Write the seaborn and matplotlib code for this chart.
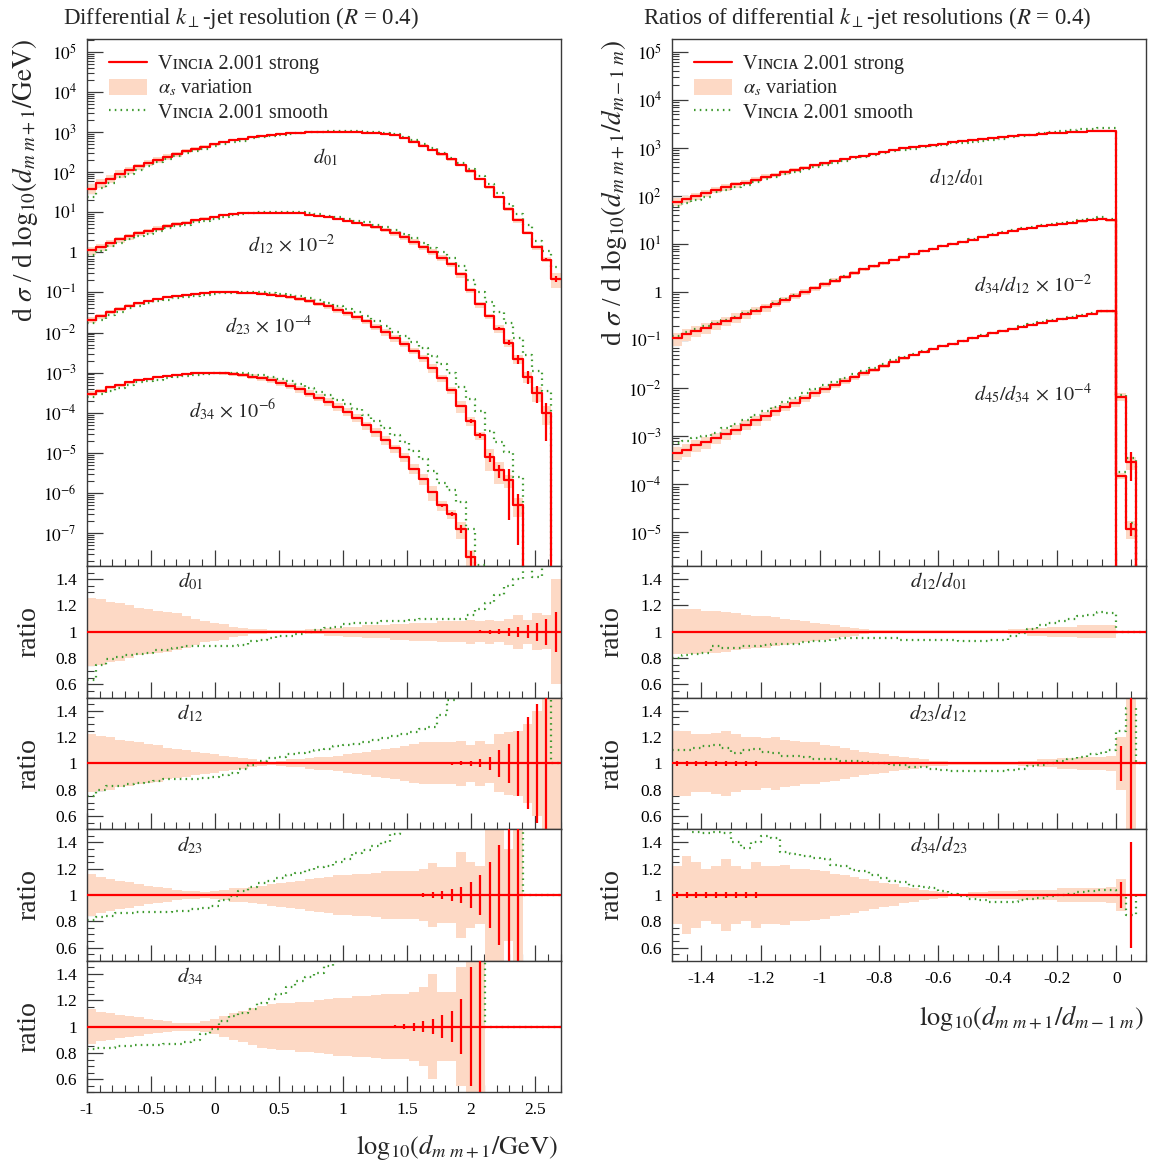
"""Vincia 2.001 strong vs smooth: differential k_T-jet resolutions and their ratios.

Left column: d_{m m+1} spectra (scaled) plus one ratio panel per spectrum.
Right column: ratios of successive resolutions plus three ratio panels.
"""

import matplotlib

matplotlib.use("Agg")

import matplotlib.pyplot as plt  # noqa: E402
import numpy as np  # noqa: E402
import seaborn as sns  # noqa: E402
from matplotlib.lines import Line2D  # noqa: E402
from matplotlib.patches import Patch  # noqa: E402
from matplotlib.ticker import (  # noqa: E402
    FixedLocator,
    FuncFormatter,
    LogLocator,
    MultipleLocator,
    NullFormatter,
)

# ---------------------------------------------------------------------------
# Data. Main-panel spectra are log10 of the red
# "strong" histogram; None = empty bin. Ratio-panel arrays are per bin:
# *_GREEN = smooth/strong, *_BAND = alpha_s half-width, *_ERR = stat. error.
# ---------------------------------------------------------------------------
LEFT_LO, LEFT_HI, LEFT_NBINS = -1.0, 2.7, 50
RIGHT_LO, RIGHT_HI, RIGHT_NBINS = -1.5, 0.1, 48

D01_LOG = [1.59, 1.72, 1.83, 1.96, 2.05, 2.14, 2.23, 2.31, 2.38, 2.45,
           2.52, 2.58, 2.63, 2.69, 2.74, 2.79, 2.83, 2.87, 2.90, 2.93,
           2.95, 2.97, 2.98, 2.99, 3.00, 3.00, 3.00, 3.00, 2.99, 2.98,
           2.97, 2.94, 2.92, 2.84, 2.76, 2.66, 2.55, 2.44, 2.32, 2.18,
           2.03, 1.83, 1.62, 1.38, 1.08, 0.80, 0.49, 0.13, -0.18, -0.66]
D12_LOG = [0.05, 0.13, 0.23, 0.32, 0.40, 0.47, 0.53, 0.59, 0.65, 0.70,
           0.74, 0.80, 0.84, 0.88, 0.92, 0.95, 0.97, 0.98, 0.99, 0.99,
           0.99, 0.98, 0.97, 0.94, 0.91, 0.87, 0.82, 0.78, 0.73, 0.68,
           0.62, 0.55, 0.47, 0.37, 0.26, 0.13, 0.01, -0.13, -0.30, -0.55,
           -0.95, -1.30, -1.60, -1.90, -2.25, -2.65, -3.10, -3.50, -4.00, None]
D23_LOG = [-1.68, -1.60, -1.49, -1.42, -1.33, -1.27, -1.21, -1.16, -1.12, -1.08,
           -1.06, -1.03, -1.02, -1.00, -1.00, -1.00, -1.01, -1.02, -1.03, -1.06,
           -1.08, -1.12, -1.16, -1.21, -1.28, -1.35, -1.43, -1.52, -1.62, -1.72,
           -1.85, -1.99, -2.14, -2.28, -2.45, -2.64, -2.89, -3.14, -3.43, -3.83,
           -4.20, -4.56, -5.10, -5.43, -5.68, -6.30, None, None, None, None]
D34_LOG = [-3.52, -3.45, -3.37, -3.31, -3.24, -3.18, -3.15, -3.12, -3.08, -3.06,
           -3.03, -3.02, -3.01, -3.00, -3.02, -3.03, -3.06, -3.10, -3.14, -3.18,
           -3.25, -3.33, -3.42, -3.52, -3.62, -3.72, -3.85, -3.98, -4.12, -4.31,
           -4.48, -4.67, -4.89, -5.10, -5.39, -5.64, -5.98, -6.31, -6.52, -6.89,
           -7.60, -8.50, None, None, None, None, None, None, None, None]

D01_GREEN = [0.63, 0.75, 0.79, 0.81, 0.82, 0.83, 0.84, 0.86, 0.86, 0.88,
             0.89, 0.89, 0.89, 0.89, 0.89, 0.89, 0.90, 0.93, 0.94, 0.95,
             0.97, 0.97, 0.98, 1.00, 1.01, 1.03, 1.04, 1.06, 1.07, 1.07,
             1.07, 1.08, 1.08, 1.08, 1.09, 1.10, 1.10, 1.10, 1.10, 1.10,
             1.13, 1.17, 1.22, 1.28, 1.35, 1.40, 1.55, 1.42, 1.65, 1.95]
D12_GREEN = [0.75, 0.80, 0.83, 0.83, 0.84, 0.85, 0.86, 0.87, 0.88, 0.88,
             0.88, 0.88, 0.89, 0.90, 0.91, 0.93, 0.96, 0.99, 1.02, 1.04,
             1.05, 1.07, 1.08, 1.09, 1.10, 1.11, 1.13, 1.14, 1.15, 1.16,
             1.18, 1.19, 1.21, 1.22, 1.24, 1.26, 1.28, 1.37, 1.48, 1.60,
             1.80, 2.00, 2.30, 2.60, 3.00, 3.30, 3.50, 3.50, 3.50, 1.00]
D23_GREEN = [0.81, 0.83, 0.84, 0.86, 0.86, 0.87, 0.87, 0.87, 0.87, 0.88,
             0.88, 0.89, 0.90, 0.92, 0.96, 0.99, 1.03, 1.06, 1.09, 1.11,
             1.13, 1.15, 1.17, 1.19, 1.21, 1.22, 1.25, 1.27, 1.32, 1.34,
             1.37, 1.40, 1.46, 1.52, 1.65, 1.80, 2.00, 2.30, 2.60, 3.00,
             3.40, 4.00, 4.50, 5.00, 5.00, 5.00, 1.00, 1.00, 1.00, 1.00]
D34_GREEN = [0.83, 0.84, 0.84, 0.85, 0.85, 0.86, 0.86, 0.86, 0.87, 0.87,
             0.88, 0.90, 0.94, 0.98, 1.04, 1.08, 1.10, 1.13, 1.18, 1.21,
             1.25, 1.30, 1.35, 1.38, 1.41, 1.46, 1.50, 1.56, 1.65, 1.75,
             1.90, 2.00, 2.20, 2.40, 2.70, 3.00, 3.30, 3.70, 4.00, 4.50,
             5.00, 5.00, 1.00, 1.00, 1.00, 1.00, 1.00, 1.00, 1.00, 1.00]

D01_BAND = [0.26, 0.25, 0.23, 0.22, 0.20, 0.18, 0.17, 0.16, 0.15, 0.14,
            0.12, 0.10, 0.08, 0.07, 0.06, 0.04, 0.03, 0.02, 0.02, 0.01,
            0.01, 0.01, 0.01, 0.02, 0.02, 0.03, 0.03, 0.04, 0.04, 0.05,
            0.05, 0.05, 0.06, 0.06, 0.07, 0.07, 0.07, 0.08, 0.08, 0.08,
            0.09, 0.08, 0.09, 0.08, 0.10, 0.13, 0.09, 0.14, 0.13, 0.40]
D12_BAND = [0.22, 0.21, 0.20, 0.18, 0.17, 0.16, 0.15, 0.14, 0.12, 0.11,
            0.10, 0.09, 0.08, 0.07, 0.06, 0.05, 0.04, 0.03, 0.02, 0.01,
            0.02, 0.03, 0.03, 0.04, 0.05, 0.05, 0.06, 0.07, 0.08, 0.09,
            0.10, 0.11, 0.12, 0.13, 0.15, 0.16, 0.16, 0.16, 0.16, 0.17,
            0.14, 0.17, 0.15, 0.22, 0.24, 0.25, 0.30, 0.40, 0.50, 0.50]
D23_BAND = [0.16, 0.14, 0.12, 0.11, 0.10, 0.08, 0.07, 0.06, 0.05, 0.04,
            0.03, 0.03, 0.02, 0.03, 0.04, 0.05, 0.05, 0.06, 0.07, 0.08,
            0.09, 0.10, 0.11, 0.12, 0.13, 0.14, 0.15, 0.15, 0.16, 0.16,
            0.17, 0.18, 0.18, 0.18, 0.18, 0.20, 0.24, 0.21, 0.21, 0.33,
            0.25, 0.22, 0.55, 0.55, 0.35, 0.50, 0.00, 0.00, 0.00, 0.00]
D34_BAND = [0.13, 0.11, 0.10, 0.09, 0.08, 0.07, 0.06, 0.05, 0.04, 0.03,
            0.03, 0.03, 0.04, 0.06, 0.08, 0.10, 0.12, 0.14, 0.16, 0.17,
            0.18, 0.18, 0.19, 0.19, 0.20, 0.21, 0.22, 0.22, 0.23, 0.23,
            0.24, 0.25, 0.25, 0.25, 0.26, 0.30, 0.40, 0.26, 0.26, 0.45,
            0.55, 0.55, 0.00, 0.00, 0.00, 0.00, 0.00, 0.00, 0.00, 0.00]

D01_ERR = [0.0, 0.0, 0.0, 0.0, 0.0, 0.0, 0.0, 0.0, 0.0, 0.0,
           0.0, 0.0, 0.0, 0.0, 0.0, 0.0, 0.0, 0.0, 0.0, 0.0,
           0.0, 0.0, 0.0, 0.0, 0.0, 0.0, 0.0, 0.0, 0.0, 0.0,
           0.0, 0.0, 0.0, 0.0, 0.0, 0.0, 0.0, 0.0, 0.0, 0.005,
           0.008, 0.01, 0.015, 0.02, 0.03, 0.04, 0.05, 0.07, 0.10, 0.15]
D12_ERR = [0.0, 0.0, 0.0, 0.0, 0.0, 0.0, 0.0, 0.0, 0.0, 0.0,
           0.0, 0.0, 0.0, 0.0, 0.0, 0.0, 0.0, 0.0, 0.0, 0.0,
           0.0, 0.0, 0.0, 0.0, 0.0, 0.0, 0.0, 0.0, 0.0, 0.0,
           0.0, 0.0, 0.0, 0.0, 0.0, 0.0, 0.0, 0.005, 0.01, 0.015,
           0.02, 0.03, 0.05, 0.10, 0.15, 0.25, 0.35, 0.45, 0.80, 0.0]
D23_ERR = [0.0, 0.0, 0.0, 0.0, 0.0, 0.0, 0.0, 0.0, 0.0, 0.0,
           0.0, 0.0, 0.0, 0.0, 0.0, 0.0, 0.0, 0.0, 0.0, 0.0,
           0.0, 0.0, 0.0, 0.0, 0.0, 0.0, 0.0, 0.0, 0.0, 0.0,
           0.0, 0.0, 0.005, 0.007, 0.01, 0.015, 0.02, 0.03, 0.045, 0.06,
           0.10, 0.15, 0.25, 0.38, 0.90, 0.90, 0.0, 0.0, 0.0, 0.0]
D34_ERR = [0.0, 0.0, 0.0, 0.0, 0.0, 0.0, 0.0, 0.0, 0.0, 0.0,
           0.0, 0.0, 0.0, 0.0, 0.0, 0.0, 0.0, 0.0, 0.0, 0.0,
           0.0, 0.0, 0.0, 0.0, 0.0, 0.0, 0.0, 0.0, 0.0, 0.0,
           0.0, 0.005, 0.01, 0.02, 0.03, 0.04, 0.06, 0.09, 0.12, 0.21,
           0.45, 1.00, 0.0, 0.0, 0.0, 0.0, 0.0, 0.0, 0.0, 0.0]

# Right column: main-panel spectra (log10), 48 bins.
R12_LOG = [1.88, 1.94, 1.99, 2.06, 2.13, 2.18, 2.24, 2.28, 2.34, 2.40,
           2.44, 2.49, 2.55, 2.59, 2.64, 2.68, 2.72, 2.76, 2.81, 2.84,
           2.88, 2.92, 2.96, 2.99, 3.01, 3.04, 3.07, 3.09, 3.12, 3.14,
           3.16, 3.18, 3.20, 3.22, 3.24, 3.26, 3.27, 3.28, 3.30, 3.31,
           3.33, 3.34, 3.35, 3.36, 3.35, None, None, None]
R34_LOG = [-0.96, -0.87, -0.80, -0.74, -0.67, -0.60, -0.53, -0.46, -0.39, -0.32,
           -0.24, -0.16, -0.08, 0.00, 0.08, 0.16, 0.24, 0.32, 0.40, 0.47,
           0.54, 0.60, 0.66, 0.72, 0.79, 0.85, 0.90, 0.95, 1.00, 1.04,
           1.09, 1.14, 1.19, 1.23, 1.27, 1.31, 1.34, 1.37, 1.40, 1.42,
           1.44, 1.47, 1.50, 1.52, 1.49, -2.18, -3.54, None]
R45_LOG = [-3.34, -3.28, -3.19, -3.12, -3.04, -2.95, -2.86, -2.76, -2.67, -2.58,
           -2.48, -2.39, -2.30, -2.20, -2.11, -2.02, -1.94, -1.85, -1.77, -1.69,
           -1.62, -1.53, -1.45, -1.38, -1.31, -1.25, -1.19, -1.13, -1.08, -1.02,
           -0.96, -0.91, -0.86, -0.81, -0.77, -0.72, -0.68, -0.64, -0.60, -0.56,
           -0.53, -0.49, -0.45, -0.40, -0.40, -3.82, -4.92, None]

R34_GREEN = [1.10, 1.10, 1.08, 1.08, 1.06, 1.06, 1.05, 1.05, 1.04, 1.04,
             1.03, 1.03, 1.03, 1.02, 1.02, 1.02, 1.02, 1.01, 1.01, 1.01,
             1.00, 1.00, 1.00, 1.00, 1.00, 1.00, 1.00, 1.00, 1.00, 1.00,
             1.02, 1.02, 1.03, 1.04, 1.05, 1.05, 1.05, 1.06, 1.06, 1.06,
             1.06, 1.06, 1.07, 1.08, 1.08, 1.10, 1.20, 1.00]
R45_GREEN = [1.55, 1.50, 1.40, 1.35, 1.30, 1.30, 1.28, 1.28, 1.27, 1.26,
             1.25, 1.25, 1.24, 1.23, 1.22, 1.20, 1.20, 1.18, 1.16, 1.14,
             1.12, 1.10, 1.08, 1.06, 1.05, 1.04, 1.03, 1.02, 1.02, 1.02,
             1.02, 1.02, 1.02, 1.02, 1.02, 1.02, 1.02, 1.02, 1.02, 1.02,
             1.02, 1.02, 1.02, 1.02, 1.00, 1.20, 1.30, 1.00]
R34_BAND = [0.30, 0.28, 0.26, 0.25, 0.24, 0.23, 0.22, 0.20, 0.19, 0.18,
            0.17, 0.16, 0.15, 0.14, 0.13, 0.12, 0.11, 0.10, 0.09, 0.08,
            0.07, 0.06, 0.05, 0.05, 0.04, 0.04, 0.03, 0.03, 0.03, 0.03,
            0.03, 0.03, 0.03, 0.04, 0.04, 0.04, 0.04, 0.05, 0.05, 0.05,
            0.05, 0.05, 0.05, 0.06, 0.06, 0.20, 0.30, 0.00]
R45_BAND = [0.30, 0.30, 0.28, 0.27, 0.26, 0.25, 0.24, 0.23, 0.22, 0.21,
            0.20, 0.19, 0.18, 0.17, 0.16, 0.15, 0.14, 0.13, 0.12, 0.11,
            0.10, 0.09, 0.08, 0.07, 0.06, 0.05, 0.05, 0.04, 0.04, 0.04,
            0.04, 0.04, 0.04, 0.04, 0.04, 0.05, 0.05, 0.05, 0.05, 0.05,
            0.05, 0.05, 0.05, 0.06, 0.06, 0.15, 0.40, 0.00]
R34_ERR = [0.0] * 46 + [0.60, 0.0]
R45_ERR = [0.0] * 46 + [0.30, 0.0]

# Right column: ratio panels d12/d01, d23/d12, d34/d23.
P12_GREEN = [0.80, 0.82, 0.83, 0.84, 0.89, 0.88, 0.88, 0.89, 0.89, 0.90,
             0.91, 0.91, 0.91, 0.92, 0.93, 0.93, 0.94, 0.95, 0.95, 0.95,
             0.95, 0.95, 0.95, 0.94, 0.94, 0.94, 0.94, 0.94, 0.94, 0.93,
             0.93, 0.93, 0.94, 0.94, 0.97, 0.99, 1.02, 1.05, 1.07, 1.08,
             1.10, 1.12, 1.13, 1.15, 1.14, 1.00, 1.00, 1.00]
P23_GREEN = [1.10, 1.10, 1.12, 1.13, 1.14, 1.12, 1.08, 1.10, 1.11, 1.09,
             1.08, 1.06, 1.06, 1.05, 1.03, 1.03, 1.03, 1.02, 1.02, 1.01,
             1.00, 1.00, 0.99, 0.99, 0.97, 0.97, 0.96, 0.95, 0.94, 0.94,
             0.94, 0.94, 0.94, 0.94, 0.95, 0.96, 0.98, 0.99, 1.00, 1.02,
             1.03, 1.05, 1.07, 1.08, 1.10, 1.25, 1.42, 1.00]
P34_GREEN = [1.50, 1.50, 1.48, 1.47, 1.48, 1.47, 1.40, 1.36, 1.40, 1.45,
             1.43, 1.33, 1.31, 1.30, 1.28, 1.27, 1.23, 1.22, 1.19, 1.18,
             1.15, 1.13, 1.11, 1.10, 1.07, 1.06, 1.05, 1.03, 1.01, 0.99,
             0.97, 0.96, 0.95, 0.95, 0.95, 0.96, 0.97, 0.98, 0.99, 1.00,
             1.01, 1.02, 1.03, 1.04, 1.04, 1.00, 0.85, 1.00]

P12_BAND = [0.17, 0.17, 0.17, 0.16, 0.16, 0.15, 0.14, 0.13, 0.12, 0.12,
            0.11, 0.10, 0.09, 0.08, 0.07, 0.06, 0.05, 0.04, 0.03, 0.02,
            0.01, 0.01, 0.01, 0.01, 0.01, 0.01, 0.01, 0.01, 0.01, 0.01,
            0.01, 0.01, 0.01, 0.01, 0.02, 0.02, 0.03, 0.03, 0.04, 0.04,
            0.04, 0.05, 0.05, 0.05, 0.05, 0.00, 0.00, 0.00]
P23_BAND = [0.25, 0.25, 0.22, 0.22, 0.23, 0.25, 0.22, 0.20, 0.20, 0.19,
            0.20, 0.18, 0.17, 0.16, 0.16, 0.14, 0.13, 0.12, 0.10, 0.09,
            0.08, 0.07, 0.06, 0.05, 0.04, 0.03, 0.02, 0.02, 0.01, 0.01,
            0.01, 0.01, 0.01, 0.01, 0.01, 0.02, 0.02, 0.03, 0.03, 0.04,
            0.04, 0.05, 0.05, 0.05, 0.06, 0.20, 0.50, 0.00]
P34_BAND = [0.22, 0.30, 0.25, 0.20, 0.22, 0.27, 0.22, 0.20, 0.25, 0.22,
            0.22, 0.23, 0.20, 0.20, 0.19, 0.18, 0.16, 0.15, 0.14, 0.12,
            0.11, 0.09, 0.08, 0.06, 0.05, 0.04, 0.03, 0.02, 0.01, 0.01,
            0.02, 0.02, 0.03, 0.03, 0.03, 0.04, 0.04, 0.04, 0.04, 0.05,
            0.05, 0.05, 0.05, 0.05, 0.06, 0.12, 0.00, 0.00]

P12_ERR = [0.0] * 48
P23_ERR = [0.02, 0.02, 0.02, 0.02, 0.02, 0.02, 0.02, 0.02, 0.02] + [0.0] * 36 + [0.13, 1.00, 0.0]
P34_ERR = [0.025, 0.025, 0.025, 0.025, 0.025, 0.025, 0.025, 0.025, 0.025] + [0.0] * 36 + [0.10, 0.40, 0.0]

LEFT_SPECTRA = [r"$d_{01}$", r"$d_{12}\,\times\,10^{-2}$",
                r"$d_{23}\,\times\,10^{-4}$", r"$d_{34}\,\times\,10^{-6}$"]
LEFT_RATIO_NAMES = [r"$d_{01}$", r"$d_{12}$", r"$d_{23}$", r"$d_{34}$"]
RIGHT_SPECTRA = [r"$d_{12}/d_{01}$", r"$d_{34}/d_{12}\,\times\,10^{-2}$",
                 r"$d_{45}/d_{34}\,\times\,10^{-4}$"]
RIGHT_RATIO_NAMES = [r"$d_{12}/d_{01}$", r"$d_{23}/d_{12}$", r"$d_{34}/d_{23}$"]

# ---------------------------------------------------------------------------
# Style
# ---------------------------------------------------------------------------
RED = "#ff0000"
BAND = "#fdd9c5"
GREEN = "#3d9a2e"
DOTS = (0, (0.7, 1.9))
SPINE = "#3a3a3a"
TINY = 1e-30  # stand-in for empty bins on a log axis

sns.set_theme(style="ticks")
plt.rcParams.update({
    "font.family": ["Liberation Serif", "DejaVu Serif"],
    "mathtext.fontset": "stix",
    "axes.unicode_minus": False,
    "axes.edgecolor": SPINE,
    "axes.linewidth": 1.0,
    "xtick.direction": "in",
    "ytick.direction": "in",
    "xtick.color": SPINE,
    "ytick.color": SPINE,
    "xtick.labelcolor": "black",
    "ytick.labelcolor": "black",
    "xtick.labelsize": 12.5,
    "ytick.labelsize": 12.5,
})

FIG_W, FIG_H = 1149, 1163
VINCIA = "V\u026a\u0274\u1d04\u026a\u1d00"


def _vals(logs):
    return np.array([np.nan if v is None else 10.0 ** v for v in logs])


def _box(x0, x1, y_top, y_bot):
    # pixel box -> figure fraction rect
    return [x0 / FIG_W, 1 - y_bot / FIG_H, (x1 - x0) / FIG_W, (y_bot - y_top) / FIG_H]


def _steps(ax, edges, vals, **kw):
    y = np.append(vals, vals[-1])
    sns.lineplot(x=edges, y=y, ax=ax, drawstyle="steps-post", estimator=None,
                 sort=False, legend=False, **kw)


def _band(ax, edges, lo, hi):
    ax.fill_between(edges, np.append(lo, lo[-1]), np.append(hi, hi[-1]),
                    step="post", color=BAND, lw=0, zorder=1)


def _log_fmt(v, _pos):
    e = int(round(np.log10(v)))
    return "1" if e == 0 else f"$10^{{{e}}}$"


def _num_fmt(v, _pos):
    s = f"{round(v, 2):g}"
    return "0" if s == "-0" else s


def _style_axis(ax, xlo, xhi, xmajor, xminor, show_xlabels):
    ax.set_xlim(xlo, xhi)
    ax.xaxis.set_major_locator(MultipleLocator(xmajor))
    ax.xaxis.set_minor_locator(MultipleLocator(xminor))
    ax.xaxis.set_major_formatter(FuncFormatter(_num_fmt))
    ax.tick_params(which="major", length=11.5, width=0.9, pad=7)
    ax.tick_params(which="minor", length=5, width=0.8)
    ax.tick_params(top=False, right=False, which="both")
    if not show_xlabels:
        ax.tick_params(axis="x", labelbottom=False)
    ax.set_xlabel("")
    ax.set_ylabel("")


def draw_spectrum(ax, edges, logs, band, green, err):
    red = _vals(logs)
    red = np.where(np.isnan(red), TINY, red)
    band = np.asarray(band)
    green = np.asarray(green)
    err = np.asarray(err)
    centers = 0.5 * (edges[:-1] + edges[1:])
    _band(ax, edges, np.maximum(red * (1 - band), TINY), red * (1 + band))
    _steps(ax, edges, np.maximum(red * green, TINY), color=GREEN, lw=1.6, linestyle=DOTS, zorder=2)
    _steps(ax, edges, red, color=RED, lw=1.6, zorder=3)
    m = err > 0
    ax.vlines(centers[m], np.maximum(red[m] * (1 - err[m]), TINY), red[m] * (1 + err[m]),
              color=RED, lw=1.6, zorder=3)


def draw_ratio(ax, edges, band, green, err):
    band = np.asarray(band)
    err = np.asarray(err)
    ones = np.ones(len(edges) - 1)
    centers = 0.5 * (edges[:-1] + edges[1:])
    _band(ax, edges, ones - band, ones + band)
    _steps(ax, edges, np.asarray(green), color=GREEN, lw=1.6, linestyle=DOTS, zorder=2)
    _steps(ax, edges, ones, color=RED, lw=1.6, zorder=3)
    m = err > 0
    ax.vlines(centers[m], 1 - err[m], 1 + err[m], color=RED, lw=1.6, zorder=3)
    ax.set_ylim(0.5, 1.5)
    ax.yaxis.set_major_locator(FixedLocator([0.6, 0.8, 1.0, 1.2, 1.4]))
    ax.yaxis.set_minor_locator(MultipleLocator(0.05))
    ax.yaxis.set_major_formatter(FuncFormatter(_num_fmt))


fig = plt.figure(figsize=(FIG_W / 100, FIG_H / 100), dpi=100)

LEFT_X = (86.7, 560.7)
RIGHT_X = (671.7, 1146.0)
MAIN_Y = (39.3, 566.0)
RATIO_H = 131.6

legend_handles = [
    Line2D([], [], color=RED, lw=1.6),
    Patch(facecolor=BAND, edgecolor="none"),
    Line2D([], [], color=GREEN, lw=1.6, linestyle=DOTS),
]
legend_labels = [f"{VINCIA} 2.001 strong", r"$\alpha_s$ variation", f"{VINCIA} 2.001 smooth"]


def build_column(x_px, lo, hi, nbins, spectra, ratios, ylog, spec_labels, ratio_labels,
                 ratio_label_xy, xmajor, xminor, ylabel, xlabel, ylabel_x, ratio_label_x, xlabel_y):
    edges = np.linspace(lo, hi, nbins + 1)
    width = x_px[1] - x_px[0]
    ax = fig.add_axes(_box(x_px[0], x_px[1], MAIN_Y[0], MAIN_Y[1]))
    ax.set_yscale("log")
    for logs, band, green, err in spectra:
        draw_spectrum(ax, edges, logs, band, green, err)
    ax.set_ylim(10 ** ylog[0], 10 ** ylog[1])
    _style_axis(ax, lo, hi, xmajor, xminor, False)
    decades = range(int(np.ceil(ylog[0])), int(np.floor(ylog[1])) + 1)
    ax.yaxis.set_major_locator(FixedLocator([10.0 ** e for e in decades]))
    ax.yaxis.set_minor_locator(LogLocator(base=10, subs=np.arange(2, 10), numticks=30))
    ax.yaxis.set_minor_formatter(NullFormatter())
    ax.yaxis.set_major_formatter(FuncFormatter(_log_fmt))
    for text, (tx, ty) in spec_labels:
        ax.text(tx, ty, text, ha="center", va="center", fontsize=14.5)
    ax.set_ylabel(ylabel, fontsize=19.5, loc="top")
    ax.yaxis.set_label_coords(ylabel_x, 1.0)
    ax.legend(legend_handles, legend_labels, loc="upper left",
              bbox_to_anchor=(22.5 / width, (MAIN_Y[1] - 54) / (MAIN_Y[1] - MAIN_Y[0])),
              frameon=False, fontsize=14.5, handlelength=1.9, handleheight=0.85,
              handletextpad=0.5, labelspacing=0.2, borderaxespad=0.0, borderpad=0.0)

    rax = None
    for i, ((band, green, err), name) in enumerate(zip(ratios, ratio_labels)):
        top = MAIN_Y[1] + i * RATIO_H
        rax = fig.add_axes(_box(x_px[0], x_px[1], top, top + RATIO_H))
        draw_ratio(rax, edges, band, green, err)
        _style_axis(rax, lo, hi, xmajor, xminor, i == len(ratios) - 1)
        rax.text(ratio_label_xy[0], ratio_label_xy[1], name, ha="center", va="center", fontsize=15)
        rax.set_ylabel("ratio", fontsize=20)
        rax.yaxis.set_label_coords(ratio_label_x, 0.5)
    rax.set_xlabel(xlabel, fontsize=19, loc="right")
    rax.xaxis.set_label_coords(0.995, xlabel_y)


build_column(
    LEFT_X, LEFT_LO, LEFT_HI, LEFT_NBINS,
    [(D01_LOG, D01_BAND, D01_GREEN, D01_ERR),
     (D12_LOG, D12_BAND, D12_GREEN, D12_ERR),
     (D23_LOG, D23_BAND, D23_GREEN, D23_ERR),
     (D34_LOG, D34_BAND, D34_GREEN, D34_ERR)],
    [(D01_BAND, D01_GREEN, D01_ERR), (D12_BAND, D12_GREEN, D12_ERR),
     (D23_BAND, D23_GREEN, D23_ERR), (D34_BAND, D34_GREEN, D34_ERR)],
    (-7.82, 5.31),
    list(zip(LEFT_SPECTRA, [(0.86, 10 ** 2.37), (0.60, 10 ** 0.2),
                            (0.42, 10 ** -1.82), (0.14, 10 ** -3.93)])),
    LEFT_RATIO_NAMES, (-0.19, 1.38), 0.5, 0.1,
    r"d $\sigma$ / d $\mathrm{log}_{10}(d_{m\ m+1}/\mathrm{GeV})$",
    r"$\mathrm{log}_{10}(d_{m\ m+1}/\mathrm{GeV})$",
    -0.099, -0.096, -0.30,
)

build_column(
    RIGHT_X, RIGHT_LO, RIGHT_HI, RIGHT_NBINS,
    [(R12_LOG, P12_BAND, P12_GREEN, P12_ERR),
     (R34_LOG, R34_BAND, R34_GREEN, R34_ERR),
     (R45_LOG, R45_BAND, R45_GREEN, R45_ERR)],
    [(P12_BAND, P12_GREEN, P12_ERR), (P23_BAND, P23_GREEN, P23_ERR),
     (P34_BAND, P34_GREEN, P34_ERR)],
    (-5.70, 5.26),
    list(zip(RIGHT_SPECTRA, [(-0.54, 10 ** 2.39), (-0.28, 10 ** 0.15), (-0.28, 10 ** -2.12)])),
    RIGHT_RATIO_NAMES, (-0.60, 1.38), 0.2, 0.05,
    r"d $\sigma$ / d $\mathrm{log}_{10}(d_{m\ m+1}/d_{m-1\ m})$",
    r"$\mathrm{log}_{10}(d_{m\ m+1}/d_{m-1\ m})$",
    -0.089, -0.099, -0.32,
)

fig.text(63 / FIG_W, 1 - 18 / FIG_H, r"Differential $k_\perp$-jet resolution ($R$ = 0.4)",
         fontsize=16.5, ha="left", va="center")
fig.text(643 / FIG_W, 1 - 18 / FIG_H, r"Ratios of differential $k_\perp$-jet resolutions ($R$ = 0.4)",
         fontsize=16.5, ha="left", va="center")

fig.savefig("out.png", dpi=100)
